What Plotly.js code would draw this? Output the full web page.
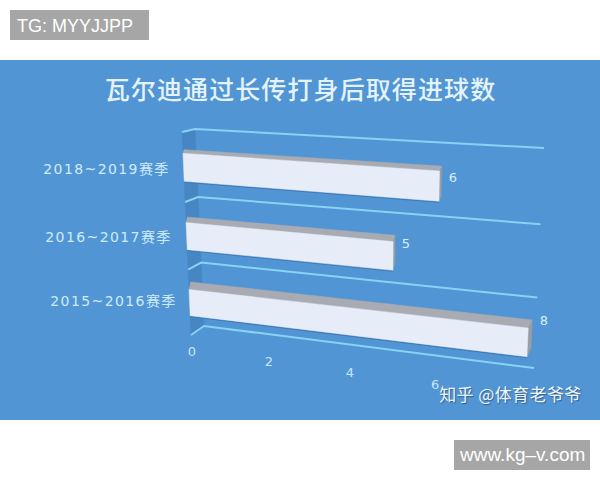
<!DOCTYPE html>
<html><head><meta charset="utf-8">
<script src="https://cdn.plot.ly/plotly-3.0.0.min.js"></script>
<style>html,body{margin:0;padding:0;background:#fff}#c{width:600px;height:480px}
.annotation[data-index="0"] text{letter-spacing:1.1px}
.annotation[data-index="1"] text,.annotation[data-index="2"] text,.annotation[data-index="3"] text{letter-spacing:1.4px}
.annotation[data-index="4"] text{letter-spacing:.4px}
</style>
</head><body><div id="c"></div>
<script>
// Data
const titleText = '瓦尔迪通过长传打身后取得进球数';
const categories = ['2018~2019赛季', '2016~2017赛季', '2015~2016赛季'];
const goals = [6, 5, 8];
const valueTicks = [0, 2, 4, 6];
const axisMax = 8;
const rowCount = categories.length;
const labelLift = [0.54, 0.58, 0.70];

// Perspective of the picture: page-pixel corners of each depth plane
// order: (v=0,r=0), (v=max,r=0), (v=max,r=top), (v=0,r=top)
const frontPlane = [[191,335],[526,378],[536,154],[182,132]];
const barBackPlane = [[193,326],[530,369],[540,149],[183,129]];
const wallPlane = [[204,326],[534,368],[544,148],[195,129]];

function homography(q){
  const [[x0,y0],[x1,y1],[x2,y2],[x3,y3]] = q;
  const dx1=x1-x2, dx2=x3-x2, sx=x0-x1+x2-x3, dy1=y1-y2, dy2=y3-y2, sy=y0-y1+y2-y3;
  const den=dx1*dy2-dx2*dy1;
  const g=(sx*dy2-dx2*sy)/den, h=(dx1*sy-sx*dy1)/den;
  const a=x1-x0+g*x1, b=x3-x0+h*x3, d=y1-y0+g*y1, e=y3-y0+h*y3;
  return (v,r)=>{
    const u=v/axisMax, t=r/rowCount, w=g*u+h*t+1;
    return [(a*u+b*t+x0)/w,(d*u+e*t+y0)/w];
  };
}
const front=homography(frontPlane), back=homography(barBackPlane), wall=homography(wallPlane);

const traces=[];
function poly(pts,fill,line,width){
  const closed=fill?pts.concat([pts[0]]):pts;
  traces.push({type:'scatter',mode:'lines',x:closed.map(p=>p[0]),y:closed.map(p=>p[1]),
    fill:fill?'toself':'none',fillcolor:fill||undefined,
    line:{color:line||fill,width:width===undefined?0.5:width,shape:'linear'},
    hoverinfo:'skip',showlegend:false});
}
function text(pts,labels,color,size,family){
  traces.push({type:'scatter',mode:'text',x:pts.map(p=>p[0]),y:pts.map(p=>p[1]),
    text:labels,textposition:'middle center',
    textfont:{color:color,size:size,family:family},
    hoverinfo:'skip',showlegend:false,cliponaxis:false});
}

// left wall
poly([front(0,0),wall(0,0),wall(0,rowCount),front(0,rowCount)],'#4686c3');
// grid lines
for(let r=0;r<=rowCount;r++){
  poly([front(0,r),wall(0,r),wall(axisMax,r)],null,'#86d3f4',2);
}
// bars
const halfBar=0.2;
categories.forEach((c,i)=>{
  const mid=rowCount-1-i+0.5, v=goals[i], lo=mid-halfBar, hi=mid+halfBar;
  poly([front(0,lo),front(v,lo)],null,'#3f7ab5',3);
  poly([front(0,hi),front(v,hi),back(v,hi),back(0,hi)],'#a8abb2');
  poly([front(v,lo),back(v,lo),back(v,hi),front(v,hi)],'#999da5');
  poly([front(0,lo),front(v,lo),front(v,hi),front(0,hi)],'#e6edf8');
});
// value labels
text(categories.map((c,i)=>back(goals[i]+0.24,rowCount-1-i+labelLift[i])),goals.map(String),'#d8f0fb',13,'DejaVu Sans, sans-serif');
// axis tick labels
text(valueTicks.map(v=>front(v,-0.28)),valueTicks.map(String),'#c6e8f8',13,'DejaVu Sans, sans-serif');

const layout={
  width:600,height:480,margin:{l:0,r:0,t:0,b:0},
  paper_bgcolor:'#ffffff',plot_bgcolor:'rgba(0,0,0,0)',showlegend:false,
  xaxis:{range:[0,600],visible:false,fixedrange:true},
  yaxis:{range:[480,0],visible:false,fixedrange:true},
  shapes:[
    {type:'rect',layer:'below',xref:'x',yref:'y',x0:0,x1:600,y0:60,y1:420,fillcolor:'#5295d4',line:{width:0}},
    {type:'rect',layer:'below',xref:'x',yref:'y',x0:10,x1:149,y0:10,y1:40,fillcolor:'#a6a6a6',line:{width:0}},
    {type:'rect',layer:'below',xref:'x',yref:'y',x0:454,x1:590,y0:440,y1:470,fillcolor:'#a6a6a6',line:{width:0}}
  ],
  annotations:[
    {text:titleText,x:300,y:88,xref:'x',yref:'y',showarrow:false,font:{family:'Noto Sans CJK SC',size:25,weight:500,color:'#e4f3fa'}},
    {text:categories[0],x:106,y:169,xref:'x',yref:'y',showarrow:false,font:{family:'DejaVu Sans, Noto Sans CJK SC',size:14,color:'#cdecf9'}},
    {text:categories[1],x:108,y:237,xref:'x',yref:'y',showarrow:false,font:{family:'DejaVu Sans, Noto Sans CJK SC',size:14,color:'#cdecf9'}},
    {text:categories[2],x:113,y:301,xref:'x',yref:'y',showarrow:false,font:{family:'DejaVu Sans, Noto Sans CJK SC',size:14,color:'#cdecf9'}},
    {text:'知乎 @体育老爷爷',x:510,y:393,xref:'x',yref:'y',showarrow:false,font:{family:'Noto Sans CJK SC',size:17,color:'#f0f6fb',shadow:'1px 1px 1px #2f5f8f'}},
    {text:'TG: MYYJJPP',x:15,y:26,xref:'x',yref:'y',xanchor:'left',showarrow:false,font:{family:'Liberation Sans',size:18,color:'#ffffff'}},
    {text:'www.kg–v.com',x:522,y:454,xref:'x',yref:'y',showarrow:false,font:{family:'Liberation Sans',size:19,color:'#ffffff'}}
  ]
};
Plotly.newPlot('c',traces,layout,{displayModeBar:false,staticPlot:true});
</script></body></html>
